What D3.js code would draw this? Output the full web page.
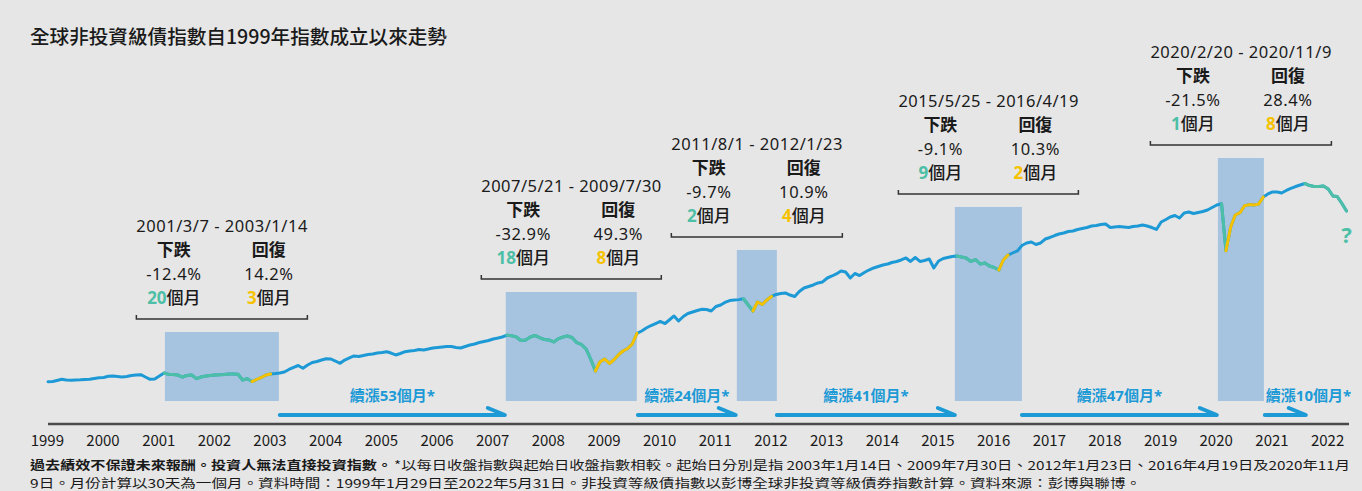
<!DOCTYPE html>
<html><head><meta charset="utf-8">
<script src="https://cdn.jsdelivr.net/npm/d3@7"></script>
<style>
html,body{margin:0;padding:0;background:#e6e6e6;}
svg{display:block;}
</style></head><body>
<svg id="chart" width="1362" height="491"></svg>
<script>
// ---------------- DATA ----------------
const titleText = "全球非投資級債指數自1999年指數成立以來走勢";
const startMonth = "1999-01";
// monthly index level (Jan 1999 = 100)
const indexValues = [
  100.1,100.4,102.1,104.1,103.0,102.6,103.0,103.3,103.8,104.1,105.5,106.7,
  107.2,109.2,109.7,108.9,108.0,108.9,110.6,111.4,111.9,108.0,104.1,104.6,
  109.7,114.8,112.6,112.2,111.4,108.0,110.6,111.4,105.2,108.0,109.7,110.6,
  111.4,111.7,112.2,113.1,113.1,112.7,103.0,105.2,100.4,103.8,107.2,111.4,
  113.1,113.9,114.8,116.5,120.7,124.4,127.4,122.7,128.3,132.5,134.2,136.7,
  138.9,138.4,135.0,131.1,136.7,140.1,143.5,142.6,144.3,146.0,146.8,148.5,
  149.4,150.7,148.5,145.2,147.7,150.7,151.9,152.7,154.4,153.6,155.3,157.0,
  157.8,158.7,159.5,159.5,157.8,157.0,159.5,162.0,163.7,166.2,167.9,169.6,
  172.2,173.8,175.5,178.6,177.8,175.5,169.6,170.5,175.5,178.1,174.4,171.3,
  170.5,167.1,172.2,175.5,177.2,174.7,166.2,162.9,155.3,138.4,118.1,133.3,
  138.4,130.8,136.7,145.2,151.9,156.1,163.7,181.8,185.7,190.7,194.9,198.3,
  201.7,198.3,204.2,211.0,202.5,210.1,215.2,217.7,220.3,222.3,221.9,219.4,
  227.0,229.5,233.8,237.1,237.9,238.6,240.1,229.5,219.4,234.6,230.4,238.0,
  243.9,247.3,249.0,249.8,246.4,243.9,252.3,258.2,260.8,263.3,266.7,268.4,
  275.1,278.5,281.9,286.9,285.2,275.1,282.7,279.3,284.4,288.6,292.0,294.5,
  297.1,298.7,301.3,303.0,305.5,308.9,303.0,309.7,303.0,304.7,307.2,292.0,
  303.8,308.0,309.7,311.4,312.2,310.6,308.9,303.0,306.3,298.7,300.4,295.4,
  292.8,288.6,305.5,313.9,317.3,320.7,330.0,334.2,335.9,331.7,334.2,340.9,
  343.5,346.8,349.4,351.1,353.6,354.4,357.0,358.7,360.3,362.9,363.7,365.4,
  366.3,360.3,361.2,362.0,361.2,360.3,362.0,362.9,364.6,362.9,360.3,357.0,
  369.6,373.8,378.1,380.6,376.4,384.8,386.5,384.0,385.7,387.4,389.9,394.1,
  398.3,400.5,321.2,361.2,381.4,385.3,397.1,399.0,398.3,399.8,411.8,416.9,
  420.3,420.3,418.6,422.8,426.2,429.5,432.1,434.6,431.2,429.5,429.5,430.4,
  425.3,413.5,412.7,400.8,388.2
];
const yearLabels = ["1999","2000","2001","2002","2003","2004","2005","2006","2007","2008","2009","2010",
                    "2011","2012","2013","2014","2015","2016","2017","2018","2019","2020","2021","2022"];

// drawdown episodes (monthly points)
const ddPeak     = ["2001-02","2007-04","2011-07","2015-05","2020-02"];
const ddTrough   = ["2002-09","2008-11","2011-09","2016-02","2020-03"];
const ddRecover  = ["2003-01","2009-08","2012-01","2016-04","2020-11"];
const currentPeak = "2021-08";

const periodText   = ["2001/3/7 - 2003/1/14","2007/5/21 - 2009/7/30","2011/8/1 - 2012/1/23","2015/5/25 - 2016/4/19","2020/2/20 - 2020/11/9"];
const declinePct   = ["-12.4%","-32.9%","-9.7%","-9.1%","-21.5%"];
const recoveryPct  = ["14.2%","49.3%","10.9%","10.3%","28.4%"];
const declineMonths  = ["20","18","2","9","1"];
const recoveryMonths = ["3","8","4","2","8"];

// shaded boxes (date range, top level in index units)
const shadeStart = ["2001-03-05","2007-04-20","2011-06-14","2015-05-15","2020-02-04"];
const shadeEnd   = ["2003-03-23","2009-08-27","2012-03-03","2016-07-28","2020-12-02"];
const shadeTop   = [184, 251.5, 322.4, 395, 477.6];
const shadeBottom = 67.5;

// rally arrows
const rallyStart  = ["2003-03-29","2009-09-03","2012-03-03","2016-07-28","2020-12-08"];
const rallyEnd    = ["2007-04-14","2011-06-07","2015-05-15","2020-01-28","2021-09-03"];
const rallyMonths = ["53","24","41","47","10"];

const footBold = "過去績效不保證未來報酬。投資人無法直接投資指數。";
const footLine1 = "*以每日收盤指數與起始日收盤指數相較。起始日分別是指 2003年1月14日、2009年7月30日、2012年1月23日、2016年4月19日及2020年11月";
const footLine2 = "9日。月份計算以30天為一個月。資料時間：1999年1月29日至2022年5月31日。非投資等級債指數以彭博全球非投資等級債券指數計算。資料來源：彭博與聯博。";

// ---------------- STYLE / LAYOUT ----------------
const C = {bg:"#e6e6e6", blue:"#1d9ad6", teal:"#4dbfa6", yellow:"#f6c200", shade:"#a6c4e0", ink:"#1a1a1a"};
const CJK = "'Noto Sans CJK TC','Noto Sans CJK SC',sans-serif";
const LAT = "'Noto Sans','Open Sans',sans-serif";
const dateTextWidth = [171,180,171,180,181];
const rallyAnchor = ["middle","middle","middle","middle","start"];

const svg = d3.select("#chart");
const W = 1362, H = 491;
svg.append("rect").attr("width",W).attr("height",H).attr("fill",C.bg);

const pm = d3.timeParse("%Y-%m");
const pd = d3.timeParse("%Y-%m-%d");
const m28 = s => { const d = pm(s); return new Date(d.getFullYear(), d.getMonth(), 28); };
const base = m28(startMonth);
const pts = indexValues.map((v,i)=>({date:d3.timeMonth.offset(base,i), v, i}));
const idxOf = s => { const d = m28(s); return (d.getFullYear()-base.getFullYear())*12 + d.getMonth()-base.getMonth(); };

const x = d3.scaleTime().domain([pts[0].date, pts[pts.length-1].date]).range([48, 1346.5]);
const y = d3.scaleLinear().domain([0,400]).range([441,204]);

// title
svg.append("text").attr("x",30).attr("y",44).attr("font-family",CJK).attr("font-size",19.6)
  .attr("font-weight",500).attr("fill",C.ink).text(titleText);

// shaded boxes
svg.append("g").selectAll("rect").data(shadeStart).join("rect")
  .attr("x",(d,i)=>x(pd(d)))
  .attr("width",(d,i)=>x(pd(shadeEnd[i]))-x(pd(d)))
  .attr("y",(d,i)=>y(shadeTop[i]))
  .attr("height",(d,i)=>y(shadeBottom)-y(shadeTop[i]))
  .attr("fill",C.shade);

// line
const line = d3.line().x(d=>x(d.date)).y(d=>y(d.v)).curve(d3.curveLinear);
const lg = svg.append("g").attr("fill","none").attr("stroke-width",3).attr("stroke-linejoin","round").attr("stroke-linecap","round");
lg.append("path").datum(pts).attr("stroke",C.blue).attr("d",line);
const segs = [];
ddPeak.forEach((p,k)=>{
  segs.push({a:idxOf(p), b:idxOf(ddTrough[k]), c:C.teal});
  segs.push({a:idxOf(ddTrough[k]), b:idxOf(ddRecover[k]), c:C.yellow});
});
segs.push({a:idxOf(currentPeak), b:pts.length-1, c:C.teal});
segs.forEach(s=>{
  lg.append("path").datum(pts.slice(s.a, s.b+1)).attr("stroke",s.c).attr("d",line);
});

// question mark
svg.append("text").attr("x",x(pts[pts.length-1].date)).attr("y",243).attr("text-anchor","middle")
  .attr("font-family",LAT).attr("font-weight",700).attr("font-size",22).attr("fill",C.teal).text("?");

// annotation blocks
periodText.forEach((t,k)=>{
  const x0 = x(pd(shadeStart[k])), x1 = x(pd(shadeEnd[k]));
  const cx = (x0+x1)/2;
  const by = y(shadeTop[k]) - 13;
  const g = svg.append("g");
  const w = dateTextWidth[k];
  g.append("path").attr("d",`M${cx-w/2},${by-4}V${by}H${cx+w/2}V${by-4}`)
    .attr("fill","none").attr("stroke","#333").attr("stroke-width",1.5);
  g.append("text").attr("x",cx-w/2).attr("y",by-87).attr("font-family",LAT).attr("font-size",16.5)
    .attr("textLength",w).attr("lengthAdjust","spacing").attr("fill",C.ink).text(t);
  const lx = cx-48, rx = cx+47;
  g.append("text").attr("x",lx).attr("y",by-63).attr("text-anchor","middle").attr("font-family",CJK)
    .attr("font-size",17).attr("font-weight",700).attr("fill",C.ink).text("下跌");
  g.append("text").attr("x",rx).attr("y",by-63).attr("text-anchor","middle").attr("font-family",CJK)
    .attr("font-size",17).attr("font-weight",700).attr("fill",C.ink).text("回復");
  g.append("text").attr("x",lx).attr("y",by-39).attr("text-anchor","middle").attr("font-family",LAT)
    .attr("font-size",16.5).attr("letter-spacing",0.6).attr("fill",C.ink).text(declinePct[k]);
  g.append("text").attr("x",rx).attr("y",by-39).attr("text-anchor","middle").attr("font-family",LAT)
    .attr("font-size",16.5).attr("letter-spacing",0.6).attr("fill",C.ink).text(recoveryPct[k]);
  [[lx,declineMonths[k],C.teal],[rx,recoveryMonths[k],C.yellow]].forEach(([xx,n,col])=>{
    const tt = g.append("text").attr("x",xx).attr("y",by-15).attr("text-anchor","middle").attr("font-size",17);
    tt.append("tspan").attr("font-family",LAT).attr("font-weight",700).attr("fill",col).text(n);
    tt.append("tspan").attr("font-family",CJK).attr("font-weight",500).attr("fill",C.ink).text("個月");
  });
});

// rally arrows
rallyStart.forEach((s,k)=>{
  const xa = x(pd(s)), xb = x(pd(rallyEnd[k]));
  const ay = 415;
  svg.append("path").attr("d",`M${xa},${ay}H${xb}L${xb-17},${ay-7}`)
    .attr("fill","none").attr("stroke",C.blue).attr("stroke-width",4)
    .attr("stroke-linecap","round").attr("stroke-linejoin","round");
  const lxx = rallyAnchor[k]==="middle" ? (xa+xb)/2 : xa+1;
  const t = svg.append("text").attr("x",lxx).attr("y",401).attr("text-anchor",rallyAnchor[k])
    .attr("font-size",15).attr("font-weight",700).attr("fill",C.blue);
  t.append("tspan").attr("font-family",CJK).text("續漲");
  t.append("tspan").attr("font-family",LAT).text(rallyMonths[k]);
  t.append("tspan").attr("font-family",CJK).text("個月");
  t.append("tspan").attr("font-family",LAT).text("*");
});

// x axis
svg.append("line").attr("x1",48).attr("x2",1349).attr("y1",424).attr("y2",424)
  .attr("stroke","#4a4a4a").attr("stroke-width",2.5);
svg.append("g").selectAll("text").data(yearLabels).join("text")
  .attr("x",d=>x(new Date(+d,0,1))+3.5).attr("y",446).attr("text-anchor","middle")
  .attr("font-family",CJK).attr("font-size",15).attr("fill",C.ink).text(d=>d);

// footer (two lines)
const FS = 12.4;
const fb = svg.append("text").attr("x",30).attr("y",470).attr("font-family",CJK).attr("font-size",FS)
  .attr("font-weight",700).attr("fill",C.ink)
  .attr("textLength",362).attr("lengthAdjust","spacingAndGlyphs").text(footBold);
const x1s = 30 + 362 + 2;
svg.append("text").attr("x",x1s).attr("y",470).attr("font-family",CJK).attr("font-size",FS)
  .attr("fill",C.ink).attr("textLength",1350-x1s).attr("lengthAdjust","spacingAndGlyphs").text(footLine1);
svg.append("text").attr("x",30).attr("y",488).attr("font-family",CJK).attr("font-size",FS)
  .attr("fill",C.ink).attr("textLength",1111).attr("lengthAdjust","spacingAndGlyphs").text(footLine2);
</script>
</body></html>
